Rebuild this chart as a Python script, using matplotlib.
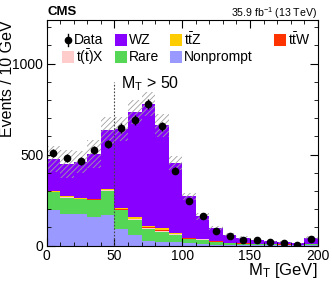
import numpy as np
import matplotlib
matplotlib.use("Agg")
import matplotlib.pyplot as plt
from matplotlib.patches import Rectangle
from matplotlib.lines import Line2D

plt.rcParams['font.family'] = ['Liberation Sans', 'DejaVu Sans']
plt.rcParams['mathtext.fontset'] = 'custom'
plt.rcParams['mathtext.rm'] = 'Liberation Sans'
plt.rcParams['mathtext.it'] = 'Liberation Sans:italic'
plt.rcParams['hatch.linewidth'] = 0.6

# binning: M_T in 10 GeV bins
edges = np.arange(0, 210, 10)

# stacked backgrounds, bottom to top
nonprompt = [198, 172, 172, 156, 169, 92, 57, 26, 23, 18, 14, 8, 6, 5, 4, 4, 3, 3, 2, 4]
rare = [95, 92, 84, 95, 133, 102, 82, 67, 54, 42, 23, 25, 16, 9, 7, 4, 4, 3, 3, 5]
tX = [3, 2, 2, 2, 3, 4, 5, 5, 5, 3, 2, 1, 1, 1, 1, 0.5, 0.5, 0.5, 0.5, 1]
ttW = [1, 1, 1, 1, 1, 2, 2, 2, 3, 2, 1, 1, 0.5, 0.5, 0.3, 0.3, 0.3, 0.2, 0.2, 0.3]
ttZ = [4, 4, 3, 3, 5, 7, 10, 10, 10, 6, 2, 2, 1.5, 1, 1, 0.7, 0.5, 0.5, 0.3, 1]
wz = [175, 178, 196, 247, 323, 433, 577, 668, 566, 385, 230, 124, 70, 43, 31, 23, 15, 12, 7, 33]

# total uncertainty on the prediction
unc = [72, 78, 60, 78, 73, 66, 66, 64, 62, 38, 20, 19, 11, 8, 7, 6, 5, 5, 4, 7]

data = [509, 484, 466, 527, 559, 646, 690, 778, 656, 412, 247, 161, 82, 54, 33, 33, 21, 13, 5, 37]

fig = plt.figure(figsize=(3.32, 2.84), dpi=100)
ax = fig.add_axes([0.1407, 0.1349, 0.8163, 0.7947])

stack = [nonprompt, rare, tX, ttW, ttZ, wz]
colors = ['#9999ff', '#55d655', '#ffcccc', '#ff3300', '#ffcc00', '#8800ff']
bottom = np.zeros(len(wz))
for vals, c in zip(stack, colors):
    vals = np.array(vals, dtype=float)
    ax.stairs(bottom + vals, edges, baseline=bottom, fill=True, color=c, linewidth=0)
    bottom = bottom + vals

total = bottom
unc = np.array(unc, dtype=float)
ax.stairs(total + unc, edges, baseline=total - unc, fill=True, facecolor='none',
          edgecolor='#a0a0a0', hatch='//////', linewidth=0)

centers = 0.5 * (edges[:-1] + edges[1:])
ax.errorbar(centers, data, yerr=np.sqrt(data), fmt='o', color='black',
            markersize=4.5, elinewidth=1.0, capsize=0)

ax.plot([50, 50], [0, 900], linestyle=(0, (1.5, 1.5)), color='#444444', linewidth=0.8)
ax.text(55, 866, r"M$_\mathrm{T}$ > 50", fontsize=11.5, va='baseline', ha='left')

ax.set_xlim(0, 200)
ax.set_ylim(0, 1240)
ax.set_xticks([0, 50, 100, 150, 200])
ax.set_xticks(np.arange(0, 201, 10), minor=True)
ax.set_yticks([0, 500, 1000])
ax.set_yticks(np.arange(0, 1201, 100), minor=True)
ax.tick_params(which='both', direction='in', top=True, right=True, labelsize=10)
ax.tick_params(which='major', length=6, pad=2.5)
ax.tick_params(which='minor', length=3)
for s in ax.spines.values():
    s.set_linewidth(0.8)

ax.set_xlabel(r"M$_\mathrm{T}$ [GeV]", fontsize=12, loc='right')
ax.xaxis.set_label_coords(1.0, -0.07)
ax.set_ylabel("Events / 10 GeV", fontsize=11.5, loc='top')
ax.yaxis.set_label_coords(-0.116, 1.0)

fig.text(47 / 332, 1 - 12 / 284, "CMS", fontsize=9.5, fontweight='bold', va='center', ha='left')
fig.text(317 / 332, 1 - 13 / 284, r"35.9 fb$^{-1}$ (13 TeV)", fontsize=7.6, va='center', ha='right')

# legend, drawn by hand to match the layout
W, H = 332.0, 284.0
def fx(x):
    return x / W
def fy(y):
    return 1 - y / H

leg_boxes = [
    (115, 40, '#8800ff', 'WZ'),
    (170, 40, '#ffcc00', r"t$\bar{\mathrm{t}}$Z"),
    (274, 40, '#ff3300', r"t$\bar{\mathrm{t}}$W"),
    (62, 57, '#ffcccc', r"t($\bar{\mathrm{t}}$)X"),
    (115, 57, '#55d655', 'Rare'),
    (170, 57, '#9999ff', 'Nonprompt'),
]
for x, y, c, lab in leg_boxes:
    fig.add_artist(Rectangle((fx(x), fy(y + 6)), 12 / W, 12 / H, transform=fig.transFigure,
                             facecolor=c, edgecolor='none'))
    fig.text(fx(x + 13.5), fy(y), lab, fontsize=10, va='center', ha='left')

fig.add_artist(Line2D([fx(67.5)], [fy(40)], marker='o', markersize=4.5, color='black',
                      transform=fig.transFigure))
fig.add_artist(Line2D([fx(67.5), fx(67.5)], [fy(34), fy(46)], color='black', linewidth=1.0,
                      transform=fig.transFigure))
fig.text(fx(74), fy(40), "Data", fontsize=10, va='center', ha='left')

fig.savefig("out.png", dpi=100)
